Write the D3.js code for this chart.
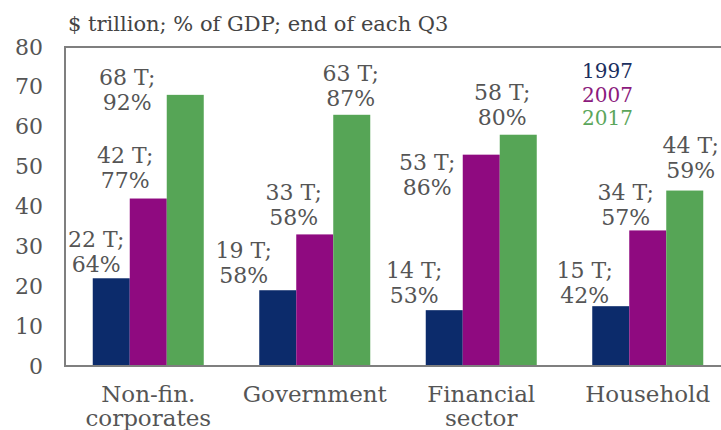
<!DOCTYPE html>
<html>
<head>
<meta charset="utf-8">
<script src="https://cdn.jsdelivr.net/npm/d3@7"></script>
<style>
  html, body { margin: 0; padding: 0; background: #fff; }
  svg { display: block; }
  text { font-family: "DejaVu Serif", Georgia, serif; }
</style>
</head>
<body>
<svg id="chart" width="721" height="430"></svg>
<script>
// Sector debt, $ trillion, with % of GDP, at end of Q3
const categories = ["Non-fin.|corporates", "Government", "Financial|sector", "Household"];
const years = ["1997", "2007", "2017"];
const debt1997 = [22, 19, 14, 15];
const debt2007 = [42, 33, 53, 34];
const debt2017 = [68, 63, 58, 44];
const pct1997 = [64, 58, 53, 42];
const pct2007 = [77, 58, 86, 57];
const pct2017 = [92, 87, 80, 59];
const yTicks = [0, 10, 20, 30, 40, 50, 60, 70, 80];

const colors = { "1997": "#0c2b6b", "2007": "#8f0a80", "2017": "#56a556" };
const legendColors = { "1997": "#1b2f60", "2007": "#8b1a7d", "2017": "#5ba65b" };

// hand-placed offsets of the value labels: [dx from bar centre, dy of 2nd line baseline from bar top]
const labelNudge = {
  "1997": [[-15, -6], [-34, -7], [-30, -7], [-26, -3]],
  "2007": [[-23, -11], [-21, -9], [-54, 40], [-22, -5]],
  "2017": [[-58, 15], [-1, -9], [-16, -10], [6, -13]]
};

const debt = { "1997": debt1997, "2007": debt2007, "2017": debt2017 };
const pct = { "1997": pct1997, "2007": pct2007, "2017": pct2017 };

const rows = [];
years.forEach(yr => categories.forEach((c, i) => rows.push({
  year: yr, cat: c, i, value: debt[yr][i], pct: pct[yr][i], nudge: labelNudge[yr][i]
})));

const svg = d3.select("#chart");
const plot = { left: 65, right: 731, top: 47, bottom: 366 };
const textColor = "#555";

const x0 = d3.scaleBand().domain(categories).range([plot.left, plot.right])
  .paddingInner(1 / 3).paddingOuter(1 / 6);
const x1 = d3.scaleBand().domain(years).range([0, x0.bandwidth()]);
const y = d3.scaleLinear().domain([0, 80]).range([plot.bottom, plot.top]);

// bars
svg.append("g").selectAll("rect").data(rows).join("rect")
  .attr("x", d => x0(d.cat) + x1(d.year))
  .attr("y", d => y(d.value))
  .attr("width", x1.bandwidth())
  .attr("height", d => y(0) - y(d.value))
  .attr("fill", d => colors[d.year]);

// frame
svg.append("path")
  .attr("d", `M${plot.right},${plot.top}H${plot.left}V${plot.bottom}H${plot.right}`)
  .attr("fill", "none").attr("stroke", "#7f7f7f").attr("stroke-width", 2);

// y axis labels
const yAxis = d3.axisLeft(y).tickValues(yTicks).tickSize(0).tickPadding(22);
const ya = svg.append("g").attr("transform", `translate(${plot.left},0)`).call(yAxis);
ya.select(".domain").remove();
ya.selectAll("text").attr("font-family", "DejaVu Serif, serif").attr("font-size", 22)
  .attr("fill", textColor);

// category labels
const xa = svg.append("g").attr("transform", `translate(0,${plot.bottom})`)
  .call(d3.axisBottom(x0).tickSize(0).tickFormat(""));
xa.select(".domain").remove();
xa.selectAll(".tick").each(function (d) {
  const lines = d.split("|");
  const t = d3.select(this).append("text")
    .attr("text-anchor", "middle").attr("font-family", "DejaVu Serif, serif")
    .attr("font-size", 23).attr("fill", textColor);
  lines.forEach((ln, k) => t.append("tspan").attr("x", 0).attr("y", 36 + k * 24).text(ln));
});

// value labels
const lbl = svg.append("g").attr("font-size", 22).attr("fill", textColor).attr("text-anchor", "middle");
rows.forEach(d => {
  const cx = x0(d.cat) + x1(d.year) + x1.bandwidth() / 2 + d.nudge[0];
  const by = y(d.value) + d.nudge[1];
  const t = lbl.append("text");
  t.append("tspan").attr("x", cx).attr("y", by - 25).text(`${d.value} T;`);
  t.append("tspan").attr("x", cx).attr("y", by).text(`${d.pct}%`);
});

// legend
const lg = svg.append("g").attr("font-size", 20);
years.forEach((yr, k) => lg.append("text")
  .attr("x", 582).attr("y", 78 + k * 23.5)
  .attr("fill", legendColors[yr]).text(yr));

// subtitle
svg.append("text").attr("x", 68).attr("y", 31).attr("font-size", 21)
  .attr("fill", "#444").text("$ trillion; % of GDP; end of each Q3");
</script>
</body>
</html>
